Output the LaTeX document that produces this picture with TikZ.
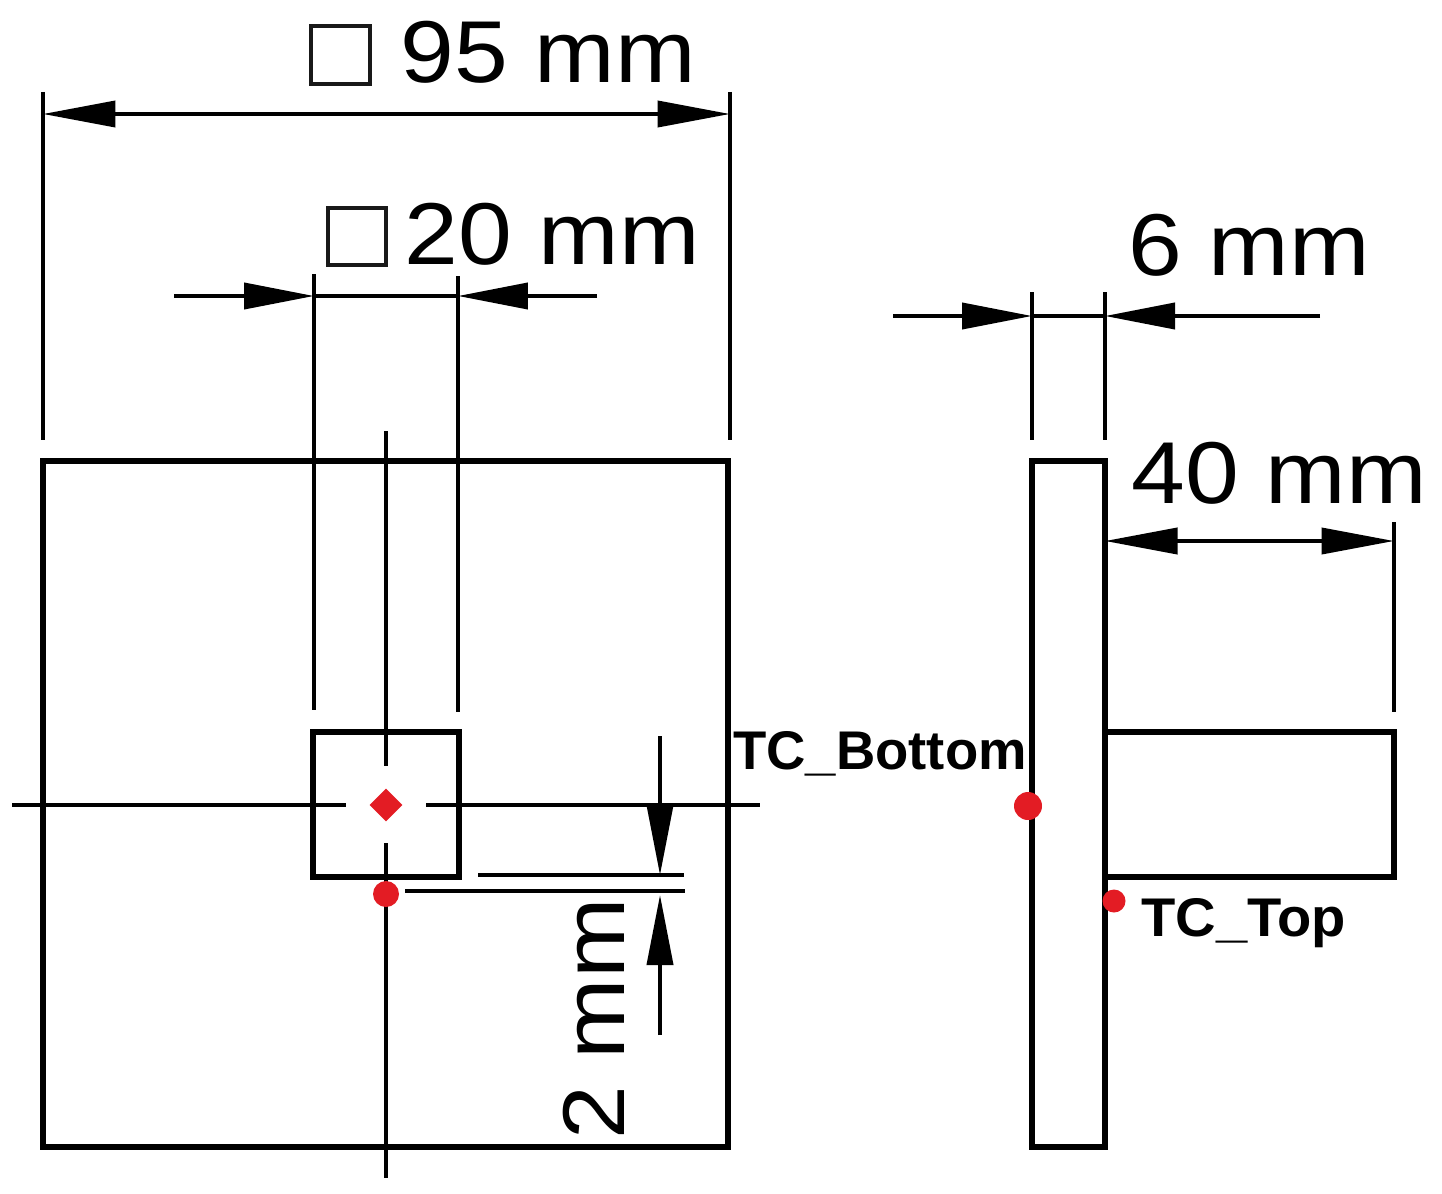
\documentclass[tikz,border=0pt]{standalone}
\usepackage{fontspec}
\setmainfont{Liberation Sans}
\usetikzlibrary{arrows.meta,shapes.geometric}
\definecolor{tcred}{rgb}{0.89,0.11,0.14}
\tikzset{
  part/.style={line width=3.1pt,black},
  boxmark/.style={line width=2.6pt,black!90},
  extline/.style={line width=2.3pt,black},
  dimline/.style={line width=2.2pt,black,{Triangle[length=1.45cm,width=0.52cm]}-{Triangle[length=1.45cm,width=0.52cm]}},
  inarrow/.style={line width=2.2pt,black,-{Triangle[length=1.4cm,width=0.52cm]}},
  dimtext/.style={inner sep=0pt,font=\fontsize{50}{50}\selectfont,xscale=1.1},
  tctext/.style={inner sep=0pt,font=\fontsize{31}{31}\selectfont\bfseries},
  tcdot/.style={circle,fill=tcred,inner sep=0pt,minimum size=0.52cm}
}
\begin{document}
\begin{tikzpicture}[line cap=butt,line join=miter,x=0.02cm,y=-0.02cm]
\useasboundingbox (0,0) rectangle (1442,1193);
% front view
\draw[part] (43,461) rectangle (728,1147);
\draw[part] (313,732) rectangle (459,877);
% centre lines
\draw[extline] (386,431) -- (386,766);
\draw[extline] (386,843) -- (386,1178);
\draw[extline] (12,805) -- (346,805);
\draw[extline] (426,805) -- (760,805);
% 95 mm
\coordinate (a1) at (43,114);
\coordinate (a2) at (730,114);
\draw[extline] (43,92) -- (43,440);
\draw[extline] (730,92) -- (730,440);
\draw[dimline] (a1) -- (a2);
\draw[boxmark] (311,26) rectangle (370,84);
\node[dimtext,anchor=west] (lab95) at (400,52) {95 mm};
% 20 mm
\coordinate (b1) at (174,296);
\coordinate (b2) at (314,296);
\coordinate (b3) at (597,296);
\coordinate (b4) at (458,296);
\draw[extline] (314,274) -- (314,710);
\draw[extline] (458,276) -- (458,712);
\draw[inarrow] (b1) -- (b2);
\draw[inarrow] (b3) -- (b4);
\draw[extline] (b2) -- (b4);
\draw[boxmark] (328,208) rectangle (386,265);
\node[dimtext,anchor=west] (lab20) at (404,234) {20 mm};
% 2 mm
\coordinate (c1) at (660,736);
\coordinate (c2) at (660,875);
\coordinate (c3) at (660,1035);
\coordinate (c4) at (660,895);
\draw[extline] (478,875) -- (684,875);
\draw[extline] (405,891) -- (685,891);
\draw[inarrow] (c1) -- (c2);
\draw[inarrow] (c3) -- (c4);
\node[rotate=90,dimtext,anchor=west] (lab2) at (594,1140) {2 mm};
% side view
\draw[part] (1032,461) rectangle (1105,1147);
\draw[part] (1105,732) rectangle (1394,877);
% 6 mm
\coordinate (d1) at (893,316);
\coordinate (d2) at (1032,316);
\coordinate (d3) at (1320,316);
\coordinate (d4) at (1105,316);
\draw[extline] (1032,292) -- (1032,440);
\draw[extline] (1105,292) -- (1105,440);
\draw[inarrow] (d1) -- (d2);
\draw[inarrow] (d3) -- (d4);
\draw[extline] (d2) -- (d4);
\node[dimtext,anchor=west] (lab6) at (1128,245) {6 mm};
% 40 mm
\coordinate (e1) at (1105,541);
\coordinate (e2) at (1394,541);
\draw[extline] (1394,522) -- (1394,712);
\draw[dimline] (e1) -- (e2);
\node[dimtext,anchor=west] (lab40) at (1131,473) {40 mm};
% thermocouples
\node[diamond,fill=tcred,inner sep=0pt,minimum size=0.66cm] (tc1) at (386,805) {};
\node[tcdot] (tc2) at (386,894) {};
\node[tcdot,minimum size=0.56cm] (tc3) at (1028,806) {};
\node[tcdot,minimum size=0.46cm] (tc4) at (1114,901) {};
\node[tctext,anchor=west] (tcb) at (733,754) {TC\_Bottom};
\node[tctext,anchor=west,xscale=1.03] (tct) at (1141,923) {TC\_Top};
\end{tikzpicture}
\end{document}
